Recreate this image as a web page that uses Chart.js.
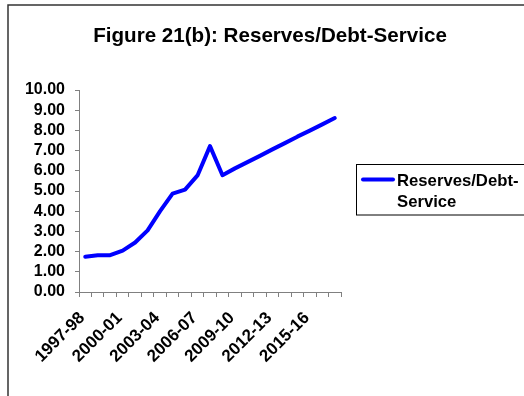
<!DOCTYPE html>
<html>
<head>
<meta charset="utf-8">
<script src="https://cdn.jsdelivr.net/npm/chart.js@4/dist/chart.umd.min.js"></script>
<style>
  html, body { margin: 0; padding: 0; background: #ffffff; }
  #wrap { width: 524px; height: 396px; position: relative; }
</style>
</head>
<body>
<div id="wrap"><canvas id="c" width="524" height="396"></canvas></div>
<script>
const titleText = "Figure 21(b): Reserves/Debt-Service";
const seriesLabel = "Reserves/Debt-Service";
const categories = ["1997-98","1998-99","1999-00","2000-01","2001-02","2002-03","2003-04","2004-05","2005-06","2006-07","2007-08","2008-09","2009-10","2010-11","2011-12","2012-13","2013-14","2014-15","2015-16","2016-17","2017-18"];
const reservesDebtService = [1.75,1.82,1.82,2.05,2.45,3.05,4.00,4.87,5.07,5.77,7.22,5.78,6.12,6.43,6.74,7.06,7.37,7.69,7.99,8.30,8.61];
const yTicks = [0,1,2,3,4,5,6,7,8,9,10];

const FONT = "'Liberation Sans', Arial, sans-serif";

const decor = {
  id: 'decor',
  beforeDraw(chart) {
    const ctx = chart.ctx;
    ctx.save();
    ctx.fillStyle = '#ffffff';
    ctx.fillRect(0, 0, chart.width, chart.height);
    ctx.strokeStyle = '#333333';
    ctx.lineWidth = 1.5;
    ctx.strokeRect(8, 5, 700, 600);
    ctx.restore();
  },
  afterDraw(chart) {
    const ctx = chart.ctx;
    ctx.save();
    // title
    ctx.fillStyle = '#000000';
    ctx.font = 'bold 20.6px ' + FONT;
    ctx.textAlign = 'center';
    ctx.textBaseline = 'alphabetic';
    ctx.fillText(titleText, 270, 41.5);
    // legend
    const ds = chart.data.datasets[0];
    ctx.strokeStyle = '#000000';
    ctx.lineWidth = 1;
    ctx.strokeRect(356.5, 164.5, 220, 50.5);
    ctx.strokeStyle = ds.borderColor;
    ctx.lineWidth = 4;
    ctx.lineCap = 'round';
    ctx.beginPath();
    ctx.moveTo(363, 179.5);
    ctx.lineTo(393, 179.5);
    ctx.stroke();
    ctx.fillStyle = '#000000';
    ctx.font = 'bold 16.7px ' + FONT;
    ctx.textAlign = 'left';
    const idx = ds.label.indexOf('-') + 1;
    ctx.fillText(ds.label.slice(0, idx), 397, 186);
    ctx.fillText(ds.label.slice(idx), 397, 207);
    ctx.restore();
  }
};

new Chart(document.getElementById('c'), {
  type: 'line',
  data: {
    labels: categories,
    datasets: [{
      label: seriesLabel,
      data: reservesDebtService,
      borderColor: '#0000ff',
      backgroundColor: '#0000ff',
      borderWidth: 4,
      pointRadius: 0,
      pointHoverRadius: 0,
      tension: 0,
      fill: false,
      borderJoinStyle: 'round',
      borderCapStyle: 'round'
    }]
  },
  options: {
    responsive: false,
    devicePixelRatio: 1,
    animation: false,
    events: [],
    layout: { padding: { left: 8, top: 90, right: 183, bottom: 24 } },
    plugins: {
      legend: { display: false },
      title: { display: false },
      tooltip: { enabled: false }
    },
    scales: {
      x: {
        type: 'category',
        offset: true,
        grid: { offset: true, drawOnChartArea: false, drawTicks: true, tickLength: 5, color: '#808080', lineWidth: 1 },
        border: { display: true, color: '#808080', width: 1 },
        ticks: {
          autoSkip: false,
          maxRotation: 45,
          minRotation: 45,
          padding: 11,
          labelOffset: -3,
          color: '#000000',
          font: { family: FONT, size: 17, weight: 'bold' },
          callback: function(v, i) { return i % 3 === 0 ? categories[i] : ''; }
        },
        afterFit: function(s) { s.height = 80; }
      },
      y: {
        min: 0,
        max: 10,
        afterBuildTicks: function(s) { s.ticks = yTicks.map(v => ({ value: v })); },
        grid: { drawOnChartArea: false, drawTicks: true, tickLength: 4, color: '#808080', lineWidth: 1 },
        border: { display: true, color: '#808080', width: 1 },
        ticks: {
          autoSkip: false,
          padding: 10,
          color: '#000000',
          font: { family: FONT, size: 16, weight: 'bold' },
          callback: function(v) { return Number(v).toFixed(2); }
        },
        afterFit: function(s) { s.width = 71; }
      }
    }
  },
  plugins: [decor]
});
</script>
</body>
</html>
